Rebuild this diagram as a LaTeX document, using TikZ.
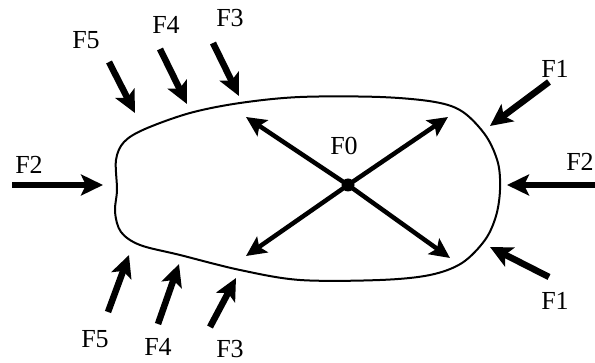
\documentclass[tikz,border=0pt]{standalone}
\usepackage{fontspec}
\setmainfont{Liberation Serif}
\usetikzlibrary{arrows.meta}
\tikzset{
  lbl/.style={inner sep=0pt, font=\fontsize{26}{26}\selectfont},
  force/.style={line width=6.5pt, -{Stealth[length=22pt,width=21pt,inset=5pt]}},
  inner/.style={line width=4.5pt, -{Stealth[length=20pt,width=19pt,inset=4pt]}},
  outline/.style={line width=2pt}
}
\begin{document}
\begin{tikzpicture}[x=1pt,y=-1pt]
\useasboundingbox (0,0) rectangle (595,363);
% outline
\draw[outline] plot[smooth cycle, tension=0.55] coordinates {
 (116,160) (124,142) (145,129) (190,113) (240,103) (300,97) (380,97)
 (435,102) (463,112) (486,136) (498,163) (500,190) (496,216) (485,240)
 (462,263) (430,275) (380,280) (300,280) (240,270) (180,255) (140,245)
 (121,232) (115,212) (117,190)};
% center
\coordinate (c) at (348,185);
\fill (c) circle (6.5pt);
\coordinate (ul) at (246,117);
\coordinate (ur) at (448,117);
\coordinate (ll) at (246,256);
\coordinate (lr) at (450,258);
\draw[inner] (c) -- (ul);
\draw[inner] (c) -- (ur);
\draw[inner] (c) -- (ll);
\draw[inner] (c) -- (lr);
\node[lbl] (f0) at (344,146) {F0};
% external forces: tails and tips
\coordinate (t5a) at (109,62);   \coordinate (h5a) at (135,113);
\coordinate (t4a) at (160,49);   \coordinate (h4a) at (187,104);
\coordinate (t3a) at (213,43);   \coordinate (h3a) at (239,96);
\coordinate (t1a) at (549,82);   \coordinate (h1a) at (490,126);
\coordinate (t2r) at (595,185);  \coordinate (h2r) at (507,185);
\coordinate (t2l) at (12,185);   \coordinate (h2l) at (103,185);
\coordinate (t1b) at (549,277);  \coordinate (h1b) at (490,247);
\coordinate (t5b) at (108,312);  \coordinate (h5b) at (129,255);
\coordinate (t4b) at (158,324);  \coordinate (h4b) at (179,264);
\coordinate (t3b) at (210,327);  \coordinate (h3b) at (236,278);
\foreach \a/\b in {t5a/h5a,t4a/h4a,t3a/h3a,t1a/h1a,t2r/h2r,t2l/h2l,t1b/h1b,t5b/h5b,t4b/h4b,t3b/h3b}
  \draw[force] (\a) -- (\b);
% labels
\node[lbl] (l5a) at (86,40) {F5};
\node[lbl] (l4a) at (166,25) {F4};
\node[lbl] (l3a) at (230,18) {F3};
\node[lbl] (l1a) at (555,69) {F1};
\node[lbl] (l2r) at (580,162) {F2};
\node[lbl] (l2l) at (29,165) {F2};
\node[lbl] (l1b) at (555,301) {F1};
\node[lbl] (l5b) at (95,339) {F5};
\node[lbl] (l4b) at (158,347) {F4};
\node[lbl] (l3b) at (230,349) {F3};
\end{tikzpicture}
\end{document}
